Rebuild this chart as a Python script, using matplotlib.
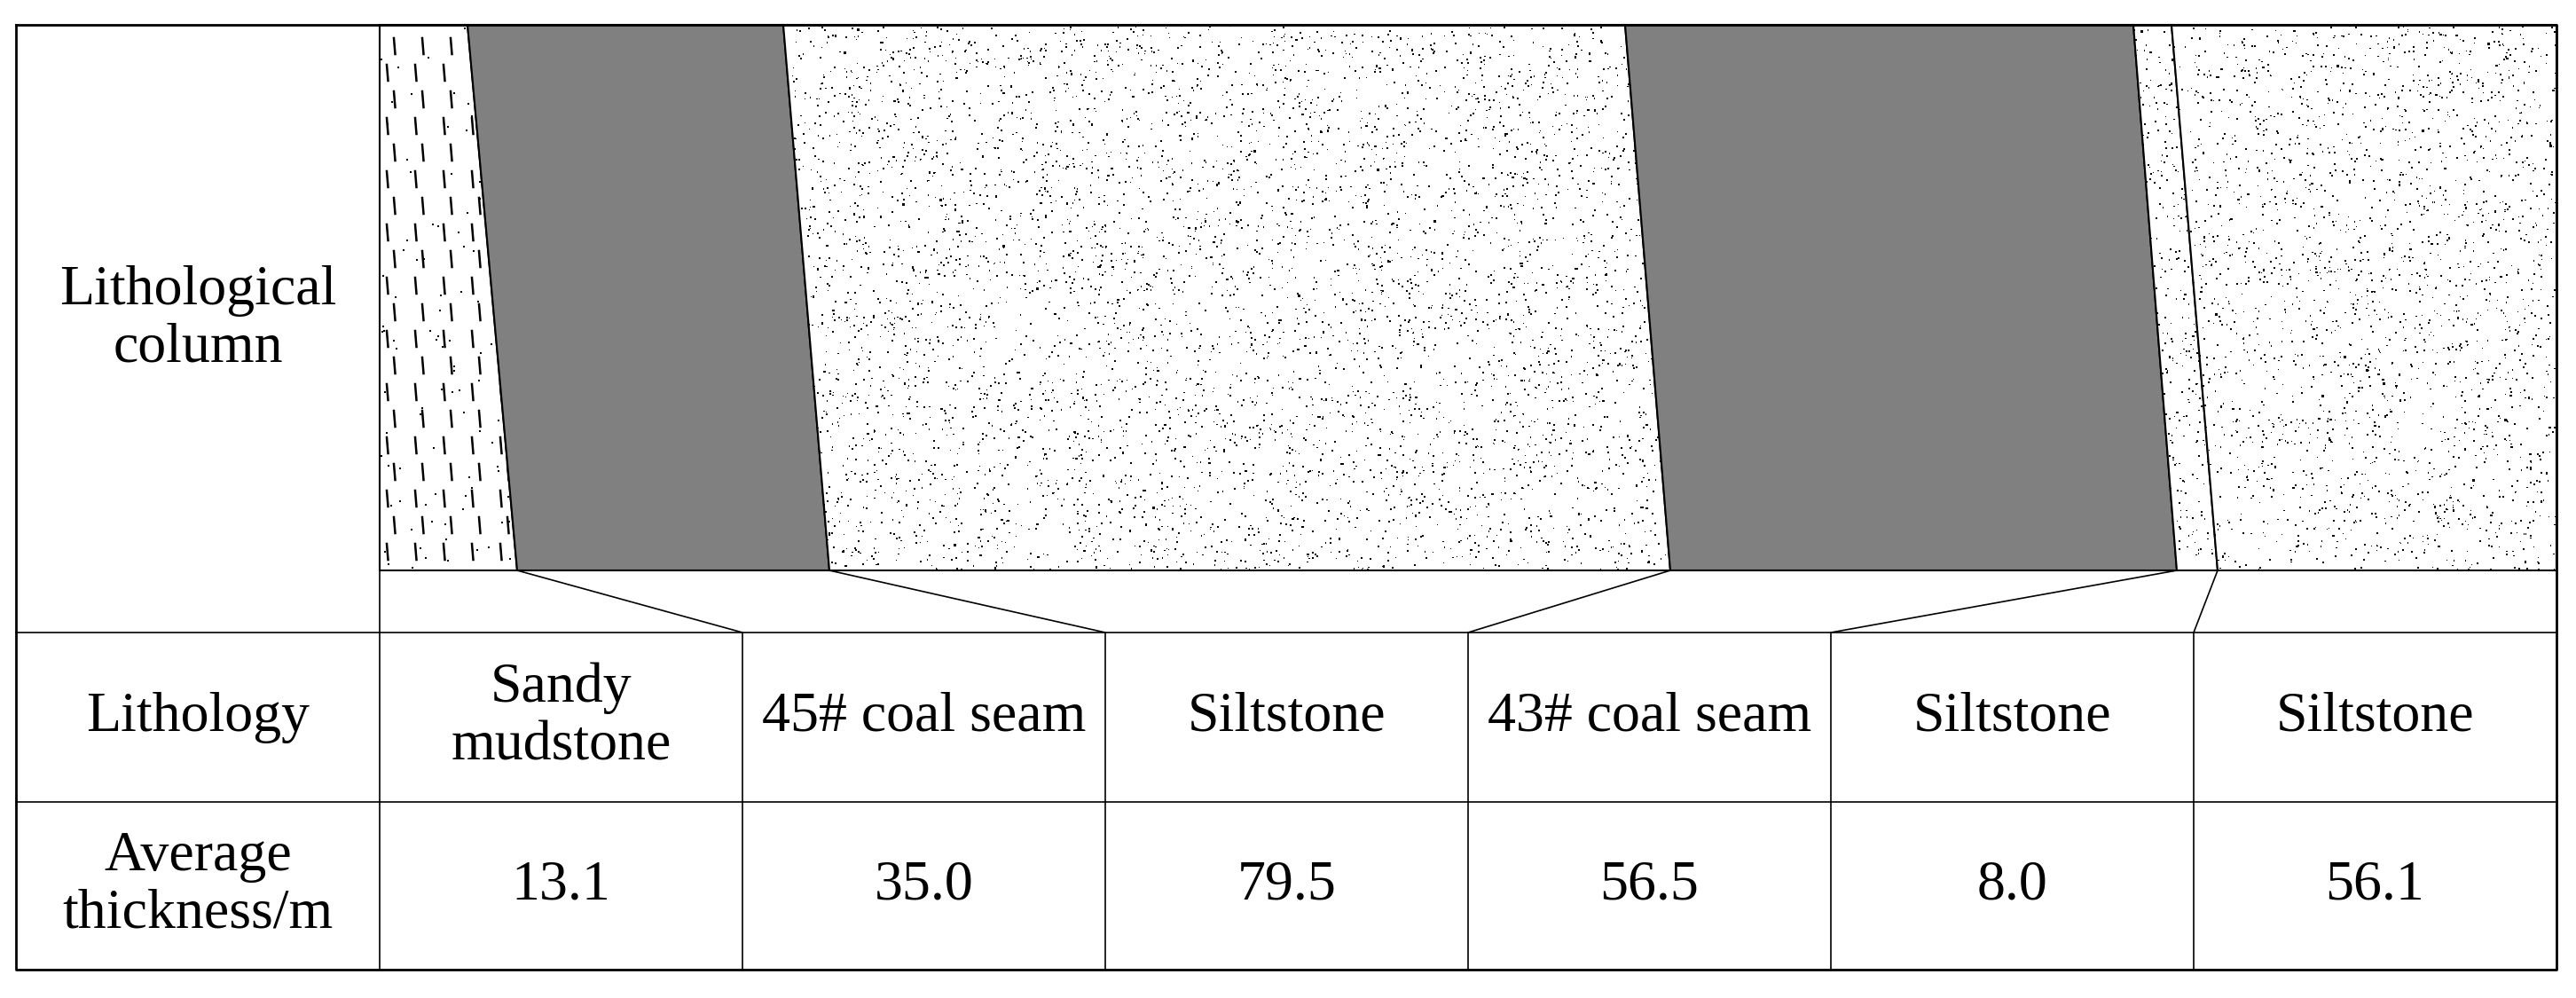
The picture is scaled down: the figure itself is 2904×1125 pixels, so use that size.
import numpy as np
import matplotlib
matplotlib.use("Agg")
import matplotlib.pyplot as plt
from matplotlib.patches import Polygon

lithology = ["Sandy\nmudstone", "45# coal seam", "Siltstone", "43# coal seam", "Siltstone", "Siltstone"]
thickness = ["13.1", "35.0", "79.5", "56.5", "8.0", "56.1"]
kinds = ["mud", "coal", "silt", "coal", "silt", "silt"]
row_labels = ["Lithological\ncolumn", "Lithology", "Average\nthickness/m"]

W, H = 2904, 1125
fig = plt.figure(figsize=(W/100, H/100), dpi=100)
ax = fig.add_axes([0, 0, 1, 1])
ax.set_xlim(0, W); ax.set_ylim(H, 0); ax.axis("off")
plt.rcParams['font.family'] = ['Liberation Serif']

L, R, T, B = 18, 2882, 28, 1093
LC = 428
y_col, y_band, y_r2 = 643, 713, 904
cols = np.linspace(LC, R, 7)
top_b = [LC, 527, 883, 1832, 2405, 2448, R]
bot_b = [LC, 583, 935, 1883, 2454, 2500, R]
rng = np.random.default_rng(0)

for i, k in enumerate(kinds):
    poly = [(top_b[i], T), (top_b[i+1], T), (bot_b[i+1], y_col), (bot_b[i], y_col)]
    if k == "coal":
        ax.add_patch(Polygon(poly, closed=True, fc="#808080", ec="black", lw=1.5))
        continue
    p = Polygon(poly, closed=True, fc="white", ec="black", lw=1.5)
    ax.add_patch(p)
    x0, x1 = min(top_b[i], bot_b[i]), max(top_b[i+1], bot_b[i+1])
    if k == "silt":
        n = int((x1 - x0) * (y_col - T) / 110)
        xs = rng.uniform(x0, x1, n); ys = rng.uniform(T, y_col, n)
        sc = ax.scatter(xs, ys, s=rng.uniform(0.4, 2.5, n), c="black", marker="s", lw=0)
        sc.set_clip_path(p)
    else:
        for yy in np.arange(T + 15, y_col, 30):
            for xx in np.arange(x0 + 8 + (yy // 30 % 2) * 8, x1, 32):
                ln, = ax.plot([xx, xx + 1.5], [yy, yy + 18], color="black", lw=1.8)
                ln.set_clip_path(p)
        xs = rng.uniform(x0, x1, 120); ys = rng.uniform(T, y_col, 120)
        sc = ax.scatter(xs, ys, s=2, c="black", marker="s", lw=0)
        sc.set_clip_path(p)

for i in range(1, 6):
    ax.plot([bot_b[i], cols[i]], [y_col, y_band], color="black", lw=1.2)

kw = dict(color="black", lw=1.2)
ax.plot([L, R, R, L, L], [T, T, B, B, T], color="black", lw=2)
ax.plot([LC, LC], [T, B], **kw)
ax.plot([LC, R], [y_col, y_col], **kw)
ax.plot([L, R], [y_band, y_band], **kw)
ax.plot([L, R], [y_r2, y_r2], **kw)
for c in cols[1:-1]:
    ax.plot([c, c], [y_band, B], **kw)

fs = 46
ls = 1.15
ax.text((L + LC) / 2, (T + y_band) / 2 - 10, row_labels[0], ha="center", va="center", fontsize=fs, linespacing=ls)
ax.text((L + LC) / 2, (y_band + y_r2) / 2, row_labels[1], ha="center", va="center", fontsize=fs)
ax.text((L + LC) / 2, (y_r2 + B) / 2, row_labels[2], ha="center", va="center", fontsize=fs, linespacing=ls)
for i in range(6):
    cx = (cols[i] + cols[i+1]) / 2
    ax.text(cx, (y_band + y_r2) / 2, lithology[i], ha="center", va="center", fontsize=fs, linespacing=ls)
    ax.text(cx, (y_r2 + B) / 2, thickness[i], ha="center", va="center", fontsize=fs)

fig.savefig("out.png", dpi=100)
